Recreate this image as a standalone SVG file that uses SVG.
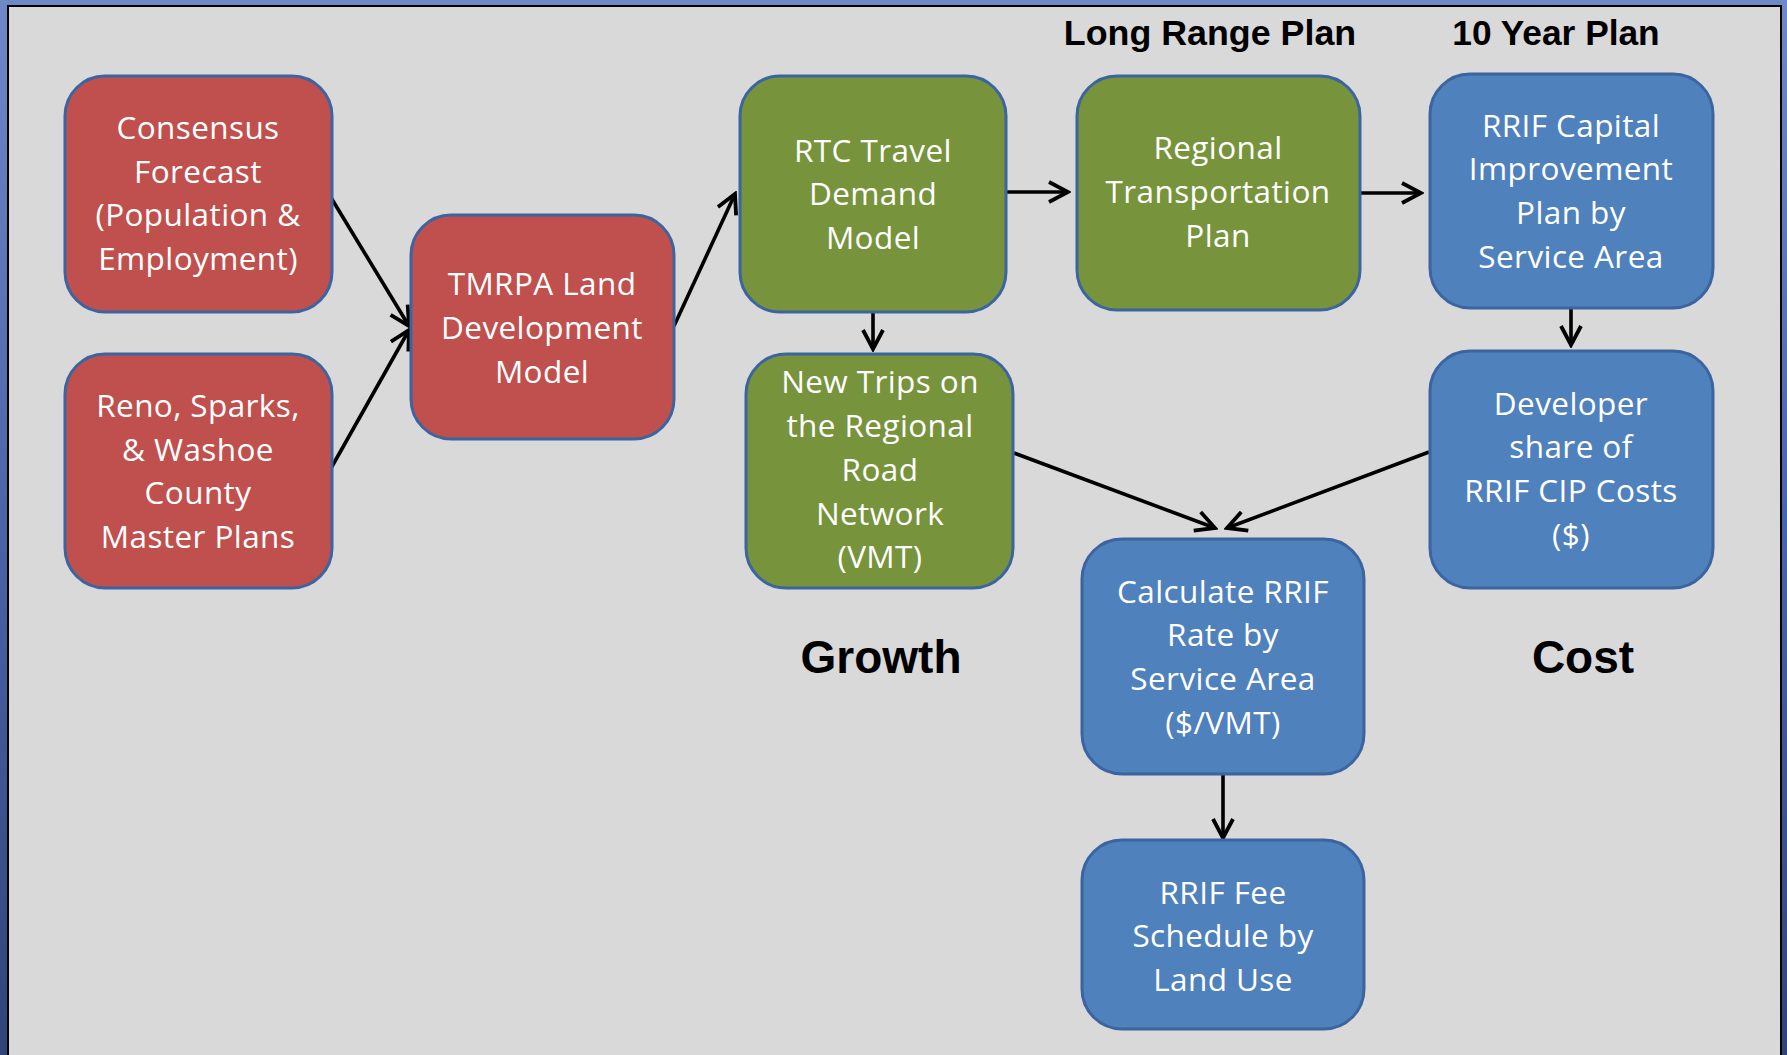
<svg xmlns="http://www.w3.org/2000/svg" width="1787" height="1055" viewBox="0 0 1787 1055">
<defs>
<linearGradient id="frame" x1="0" y1="0" x2="0" y2="1">
<stop offset="0" stop-color="#6F88C6"/>
<stop offset="0.5" stop-color="#4A64A8"/>
<stop offset="1" stop-color="#2F4578"/>
</linearGradient>
<marker id="arr" markerWidth="26" markerHeight="26" viewBox="-23 -13 26 26" refX="0" refY="0" orient="auto" markerUnits="userSpaceOnUse">
<path d="M-19,-10 L0,0 L-19,10" fill="none" stroke="#000" stroke-width="3.8" stroke-linejoin="miter"/>
</marker>
<style>
.red{fill:#C0504D;stroke:#3B64A0;stroke-width:3}
.green{fill:#77933C;stroke:#3B64A0;stroke-width:3}
.blue{fill:#4F81BD;stroke:#3B64A0;stroke-width:3}
.t{font-family:"Open Sans",Lato,"Liberation Sans",sans-serif;font-size:31.5px;letter-spacing:0.4px;fill:#FFFFFF;text-anchor:middle}
.h{font-family:"Liberation Sans",Arial,sans-serif;font-weight:bold;fill:#000;text-anchor:middle}
.c{fill:none;stroke:#000;stroke-width:3.6;marker-end:url(#arr)}
</style>
</defs>
<rect x="0" y="0" width="1787" height="1055" fill="url(#frame)"/>
<rect x="8" y="6" width="1773" height="1060" fill="#D9D9D9" stroke="#000" stroke-width="2"/>

<g id="labels">
<text class="h" x="1210" y="45" font-size="35.8">Long Range Plan</text>
<text class="h" x="1556" y="45" font-size="35.3">10 Year Plan</text>
<text class="h" x="881" y="673" font-size="46">Growth</text>
<text class="h" x="1583" y="673" font-size="46">Cost</text>
</g>

<g id="connectors">
<line class="c" x1="330" y1="196" x2="409" y2="326"/>
<line class="c" x1="330" y1="470" x2="409" y2="330"/>
<line class="c" x1="674" y1="326" x2="735" y2="194"/>
<line class="c" x1="1006" y1="192" x2="1068" y2="192"/>
<line class="c" x1="1360" y1="193" x2="1421" y2="193"/>
<line class="c" x1="873" y1="312" x2="873" y2="349"/>
<line class="c" x1="1571" y1="308" x2="1571" y2="345"/>
<line class="c" x1="1014" y1="453" x2="1215" y2="528"/>
<line class="c" x1="1429" y1="452" x2="1227" y2="528"/>
<line class="c" x1="1223" y1="774" x2="1223" y2="838"/>
</g>

<g id="consensus">
<rect class="red" x="65" y="76" width="267" height="236" rx="40"/>
<text class="t" x="198" y="139">Consensus</text>
<text class="t" x="198" y="183">Forecast</text>
<text class="t" x="198" y="226">(Population &amp;</text>
<text class="t" x="198" y="270">Employment)</text>
</g>

<g id="reno">
<rect class="red" x="65" y="354" width="267" height="234" rx="40"/>
<text class="t" x="198" y="417">Reno, Sparks,</text>
<text class="t" x="198" y="461">&amp; Washoe</text>
<text class="t" x="198" y="504">County</text>
<text class="t" x="198" y="548">Master Plans</text>
</g>

<g id="tmrpa">
<rect class="red" x="411" y="215" width="263" height="224" rx="40"/>
<text class="t" x="542" y="295">TMRPA Land</text>
<text class="t" x="542" y="339">Development</text>
<text class="t" x="542" y="383">Model</text>
</g>

<g id="rtc">
<rect class="green" x="740" y="76" width="266" height="236" rx="40"/>
<text class="t" x="873" y="162">RTC Travel</text>
<text class="t" x="873" y="205">Demand</text>
<text class="t" x="873" y="249">Model</text>
</g>

<g id="rtp">
<rect class="green" x="1077" y="76" width="283" height="234" rx="40"/>
<text class="t" x="1218" y="159">Regional</text>
<text class="t" x="1218" y="203">Transportation</text>
<text class="t" x="1218" y="247">Plan</text>
</g>

<g id="rrif-cip">
<rect class="blue" x="1430" y="74" width="283" height="234" rx="40"/>
<text class="t" x="1571" y="137">RRIF Capital</text>
<text class="t" x="1571" y="180">Improvement</text>
<text class="t" x="1571" y="224">Plan by</text>
<text class="t" x="1571" y="268">Service Area</text>
</g>

<g id="new-trips">
<rect class="green" x="746" y="354" width="267" height="234" rx="40"/>
<text class="t" x="880" y="393">New Trips on</text>
<text class="t" x="880" y="437">the Regional</text>
<text class="t" x="880" y="481">Road</text>
<text class="t" x="880" y="525">Network</text>
<text class="t" x="880" y="568">(VMT)</text>
</g>

<g id="developer">
<rect class="blue" x="1430" y="351" width="283" height="237" rx="40"/>
<text class="t" x="1571" y="415">Developer</text>
<text class="t" x="1571" y="458">share of</text>
<text class="t" x="1571" y="502">RRIF CIP Costs</text>
<text class="t" x="1571" y="546">($)</text>
</g>

<g id="calculate">
<rect class="blue" x="1082" y="539" width="282" height="235" rx="40"/>
<text class="t" x="1223" y="603">Calculate RRIF</text>
<text class="t" x="1223" y="646">Rate by</text>
<text class="t" x="1223" y="690">Service Area</text>
<text class="t" x="1223" y="734">($/VMT)</text>
</g>

<g id="fee">
<rect class="blue" x="1082" y="840" width="282" height="189" rx="40"/>
<text class="t" x="1223" y="904">RRIF Fee</text>
<text class="t" x="1223" y="947">Schedule by</text>
<text class="t" x="1223" y="991">Land Use</text>
</g>
</svg>
